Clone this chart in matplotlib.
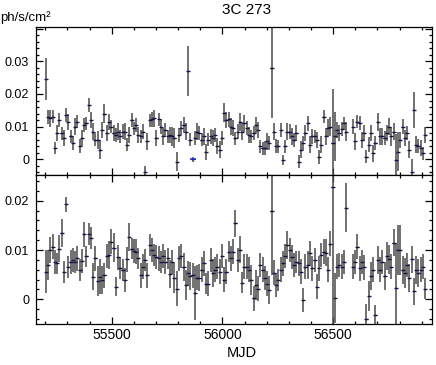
import numpy as np
import matplotlib
matplotlib.use("Agg")
import matplotlib.pyplot as plt
from matplotlib.ticker import MultipleLocator, FuncFormatter

plt.rcParams['font.family'] = ['Liberation Sans', 'DejaVu Sans']

# binned light curve, ~10 day bins
t_first = 55202
bin_days = 10.2

# upper panel flux (ph/s/cm2)
top_flux = [
    0.0246, 0.013, 0.0125, 0.013, 0.0034, 0.008, 0.012, 0.008, 0.0065, 0.0135,
    0.0115, 0.007, 0.005, 0.010, 0.0115, 0.004, 0.0065, 0.0105, 0.011, 0.0166,
    0.012, 0.0085, 0.006, 0.006, 0.003, 0.009, 0.014, 0.008, 0.0115, 0.010,
    0.008, 0.0075, 0.0085, 0.007, 0.0085, 0.0085, 0.0045, 0.0075, 0.012, 0.0095,
    0.0105, 0.0075, 0.007, 0.0085, -0.0038, 0.0055, 0.012, 0.0122, 0.0125, 0.0065,
    0.0122, 0.010, 0.007, 0.009, 0.007, 0.0075, 0.007, 0.0065, -0.0007, 0.0075,
    0.0095, 0.0105, 0.0085, 0.027, 0.006, 0.0, 0.0065, 0.0085, 0.008, 0.006,
    0.007, 0.0023, 0.006, 0.007, 0.0065, 0.0075, 0.004, 0.003, 0.0066, 0.0143,
    0.012, 0.0122, 0.010, 0.0095, 0.0065, 0.0085, 0.0115, 0.0085, 0.011, 0.0095,
    0.0075, 0.007, 0.008, 0.0105, 0.009, 0.004, 0.0034, 0.0034, 0.0055, 0.005,
    0.028, 0.0085, 0.004, 0.004, 0.009, -0.0002, 0.004, 0.0085, 0.0085, 0.007,
    0.006, 0.008, -0.0007, 0.003, 0.005, 0.008, 0.011, 0.0045, 0.007, 0.007,
    0.006, 0.0008, 0.0045, 0.013, 0.007, 0.0095, 0.010, 0.005, 0.007, 0.009,
    0.008, 0.0092, 0.011, 0.0085, np.nan, np.nan, 0.010, 0.0055, 0.0115, 0.0112,
    0.006, 0.008, 0.0008, 0.0045, 0.008, 0.0018, 0.005, 0.0115, 0.007, 0.007,
    0.0065, 0.008, 0.010, 0.007, 0.0085, -0.0002, 0.0023, 0.006, 0.010, 0.0065,
    0.008, 0.003, -0.004, 0.015, 0.0045, 0.004, 0.0034, 0.0018, 0.0075,
]
top_err = [
    0.0064, 0.0022, 0.0025, 0.002, 0.0018, 0.0025, 0.0022, 0.002, 0.0025, 0.0022,
    0.0025, 0.002, 0.0022, 0.0025, 0.002, 0.0022, 0.0025, 0.0022, 0.002, 0.0022,
    0.0025, 0.0025, 0.002, 0.0028, 0.003, 0.0025, 0.003, 0.0025, 0.0025, 0.002,
    0.0025, 0.0022, 0.0025, 0.002, 0.0022, 0.0025, 0.002, 0.0025, 0.0022, 0.002,
    0.0022, 0.0025, 0.002, 0.0022, 0.0018, 0.0025, 0.002, 0.0022, 0.0025, 0.0025,
    0.002, 0.0022, 0.0025, 0.0022, 0.002, 0.0025, 0.0028, 0.003, 0.003, 0.0022,
    0.0022, 0.0025, 0.0025, 0.0077, 0.002, 0.0008, 0.0022, 0.0025, 0.0022, 0.002,
    0.0025, 0.0025, 0.002, 0.0022, 0.0025, 0.0022, 0.0025, 0.0025, 0.0022, 0.003,
    0.0025, 0.0022, 0.0025, 0.0025, 0.002, 0.0022, 0.0028, 0.0025, 0.0025, 0.0022,
    0.0025, 0.002, 0.0022, 0.0025, 0.0025, 0.002, 0.002, 0.0022, 0.0025, 0.002,
    0.0155, 0.0025, 0.0022, 0.002, 0.0022, 0.0015, 0.002, 0.0025, 0.0022, 0.0025,
    0.0022, 0.0025, 0.002, 0.0025, 0.0022, 0.0025, 0.0022, 0.0025, 0.0022, 0.002,
    0.0025, 0.0022, 0.0025, 0.002, 0.0025, 0.0028, 0.003, 0.0165, 0.0075, 0.0025,
    0.0025, 0.0022, 0.002, 0.0028, np.nan, np.nan, 0.0022, 0.0025, 0.002, 0.0022,
    0.0025, 0.0025, 0.002, 0.0022, 0.0025, 0.0025, 0.0022, 0.0028, 0.0025, 0.0025,
    0.0022, 0.0025, 0.0025, 0.0028, 0.0025, 0.008, 0.006, 0.0025, 0.0022, 0.0025,
    0.0022, 0.0025, 0.004, 0.0055, 0.0025, 0.0022, 0.0025, 0.002, 0.0025,
]

# lower panel flux (ph/s/cm2)
bot_flux = [
    0.0056, 0.007, 0.010, 0.0107, 0.0076, 0.0073, 0.0103, 0.0134, 0.0056, 0.0193,
    0.0066, 0.0076, 0.008, 0.0076, 0.0083, 0.006, 0.0078, 0.0132, 0.0087, 0.0132,
    0.0124, 0.0046, 0.0083, 0.0037, 0.0046, 0.0039, 0.0049, 0.0088, 0.009, 0.0117,
    0.0105, 0.0026, 0.0085, 0.0063, 0.006, 0.0039, 0.0081, 0.0127, 0.0103, 0.0098,
    0.0097, 0.0083, 0.0049, 0.0066, 0.008, 0.0049, 0.011, 0.010, 0.009, 0.0086,
    0.0083, 0.0076, 0.0088, 0.0076, 0.0083, 0.0051, 0.0076, 0.0043, 0.0022, 0.0083,
    0.0088, 0.0066, 0.0029, 0.0053, 0.0047, 0.0049, 0.0013, 0.0044, 0.0044, 0.006,
    0.0073, 0.0032, 0.0032, 0.008, 0.0053, 0.006, 0.0066, 0.0056, 0.0088, 0.004,
    0.0056, 0.0097, 0.0083, 0.0097, 0.0154, 0.008, 0.0101, 0.0034, 0.0066, 0.0066,
    0.006, 0.0039, 0.0002, 0.0029, 0.0022, 0.007, 0.006, 0.0043, 0.0032, 0.0019,
    0.018, 0.0054, 0.0029, 0.0039, 0.006, 0.0073, 0.0088, 0.011, 0.010, 0.0086,
    0.007, 0.0076, 0.0073, 0.0056, -0.0001, 0.0066, 0.007, 0.0093, 0.0063, 0.008,
    0.0026, 0.0063, 0.009, 0.0097, 0.0095, 0.006, 0.0113, 0.0228, 0.0003, 0.0066,
    0.007, 0.0066, 0.0076, 0.0186, np.nan, np.nan, 0.0066, 0.0076, 0.0107, 0.0063,
    0.0076, 0.0065, -0.0039, 0.0007, 0.0047, 0.006, -0.0032, 0.008, 0.006, 0.0076,
    0.0047, 0.0088, 0.0081, 0.0066, 0.0115, 0.0024, 0.010, 0.010, 0.006, 0.0054,
    0.007, 0.0043, 0.0081, 0.0016, 0.006, 0.0053, 0.006, 0.0066, 0.0022,
]
bot_err = [
    0.0044, 0.003, 0.0027, 0.0025, 0.0025, 0.0022, 0.0027, 0.0028, 0.0022, 0.0015,
    0.0022, 0.0025, 0.0025, 0.0022, 0.0025, 0.0022, 0.0025, 0.0025, 0.0022, 0.0022,
    0.0022, 0.0028, 0.0025, 0.003, 0.0035, 0.0028, 0.0025, 0.0025, 0.0028, 0.0025,
    0.003, 0.002, 0.0025, 0.0022, 0.0022, 0.0025, 0.0025, 0.0028, 0.0022, 0.0025,
    0.0025, 0.0022, 0.0025, 0.0025, 0.0022, 0.0025, 0.0022, 0.0025, 0.0022, 0.0025,
    0.0025, 0.0022, 0.0025, 0.0025, 0.0022, 0.0028, 0.0025, 0.003, 0.0035, 0.0025,
    0.0025, 0.0028, 0.003, 0.0025, 0.0028, 0.0025, 0.0055, 0.0025, 0.0028, 0.0025,
    0.0025, 0.0022, 0.0025, 0.0025, 0.0028, 0.0025, 0.0025, 0.0025, 0.0025, 0.0025,
    0.0025, 0.0022, 0.0025, 0.0025, 0.0027, 0.0025, 0.0028, 0.0022, 0.0025, 0.0025,
    0.0025, 0.003, 0.0025, 0.003, 0.0025, 0.0025, 0.0025, 0.0025, 0.0025, 0.0028,
    0.013, 0.0025, 0.0025, 0.0022, 0.0025, 0.0025, 0.0025, 0.0028, 0.0025, 0.0025,
    0.0025, 0.0022, 0.0025, 0.0025, 0.0025, 0.0025, 0.0028, 0.0025, 0.0025, 0.0025,
    0.0025, 0.0025, 0.0025, 0.0025, 0.0028, 0.0025, 0.0025, 0.03, 0.005, 0.0025,
    0.0025, 0.0025, 0.0025, 0.005, np.nan, np.nan, 0.0025, 0.0025, 0.0025, 0.0025,
    0.0025, 0.0025, 0.003, 0.003, 0.0028, 0.0025, 0.002, 0.0028, 0.0025, 0.0025,
    0.0028, 0.0028, 0.003, 0.0025, 0.0028, 0.009, 0.005, 0.005, 0.0028, 0.003,
    0.0025, 0.0028, 0.0028, 0.0027, 0.0028, 0.0028, 0.0025, 0.0025, 0.0022,
]

top_blue = [66]

mjd = t_first + bin_days * np.arange(len(top_flux))


def fmt_flux(v, pos):
    if abs(v) < 1e-9:
        return "0"
    if v > 0.035:
        return ""
    return f"{v:.2f}"


def draw_panel(ax, flux, err, blue=()):
    flux = np.array(flux)
    err = np.array(err)
    ax.errorbar(mjd, flux, yerr=err, fmt='none', ecolor='#505050', elinewidth=1.15)
    ax.errorbar(mjd, flux, xerr=5, fmt='none', ecolor='black', elinewidth=0.9)
    ax.plot(mjd, flux, '_', color='#15154a', ms=2.5, mew=0.9)
    for i in blue:
        ax.plot(mjd[i - 1], flux[i - 1], '_', color='#2233cc', ms=4, mew=1.1)
    ax.set_xlim(55158, 56946)
    ax.xaxis.set_major_locator(MultipleLocator(500))
    ax.xaxis.set_minor_locator(MultipleLocator(100))
    ax.yaxis.set_major_locator(MultipleLocator(0.01))
    ax.yaxis.set_minor_locator(MultipleLocator(0.002))
    ax.yaxis.set_major_formatter(FuncFormatter(fmt_flux))
    ax.tick_params(which='both', direction='in', top=True, right=True, width=0.9)
    ax.tick_params(which='major', length=5, labelsize=9, pad=5)
    ax.tick_params(which='minor', length=2.5)
    for s in ax.spines.values():
        s.set_linewidth(0.9)


fig = plt.figure(figsize=(4.36, 3.65), dpi=100)
ax1 = fig.add_axes([0.0826, 0.5205, 0.908, 0.4055])
ax2 = fig.add_axes([0.0826, 0.1123, 0.908, 0.408])

draw_panel(ax1, top_flux, top_err, top_blue)
ax1.set_ylim(-0.0048, 0.0405)
ax1.tick_params(axis='x', labelbottom=False)

draw_panel(ax2, bot_flux, bot_err)
ax2.set_ylim(-0.005, 0.0252)
ax2.tick_params(axis='x', labelsize=10, pad=3)

fig.text(247 / 436, 1 - 10 / 365, "3C 273", ha='center', va='center', fontsize=11)
fig.text(0.0, 1 - 18 / 365, "ph/s/cm²", ha='left', va='center', fontsize=9.5)
fig.text(242 / 436, 1 - 353 / 365, "MJD", ha='center', va='center', fontsize=10.5)

fig.savefig("out.png", dpi=100)
